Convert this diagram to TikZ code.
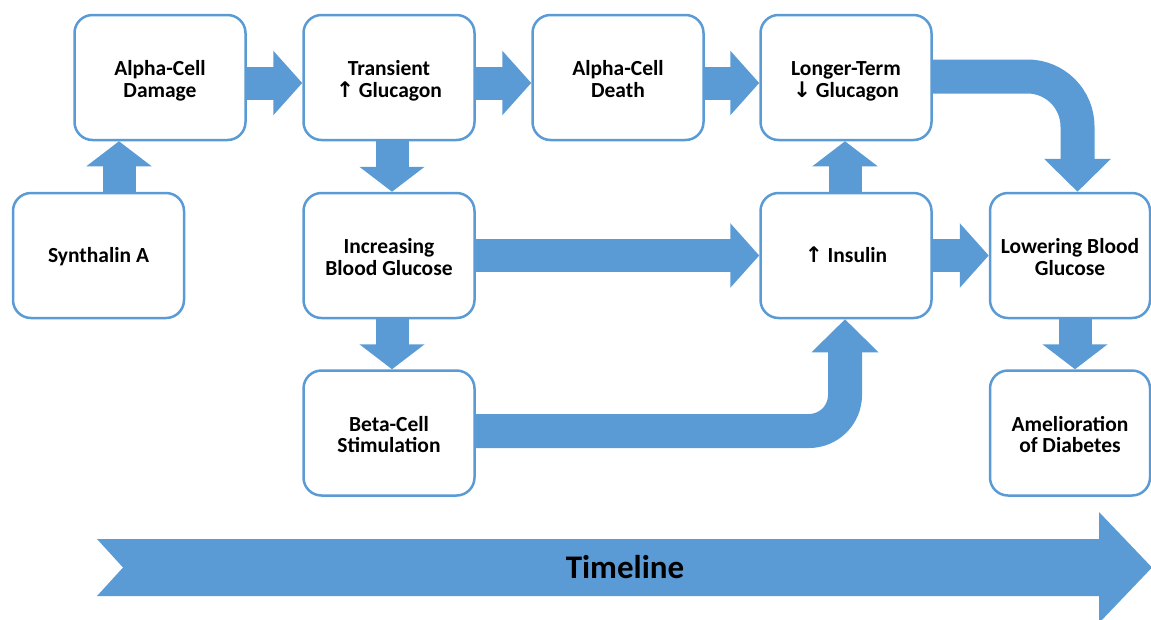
\documentclass[tikz,border=0pt]{standalone}
\usepackage{fontspec}
\setmainfont{Carlito}
\newfontfamily\arrowfont{DejaVu Sans}
\usetikzlibrary{arrows.meta}
\definecolor{flowblue}{HTML}{5B9BD5}

\begin{document}
\begin{tikzpicture}[x=1pt,y=-1pt,
  box/.style={draw=flowblue, line width=2.5pt, fill=white, rounded corners=18pt,
    minimum width=171pt, minimum height=125pt, align=center, inner sep=0pt,
    text height=39pt, text depth=0pt,
    font=\bfseries\fontsize{21.5}{21.5}\selectfont},
  onebox/.style={box, text height=14pt, text depth=0pt},
  narrowbox/.style={box, minimum width=160pt},
  hflow/.style={draw=flowblue, line width=33pt, -{Triangle[width=63pt,length=29pt]}},
  vflow/.style={draw=flowblue, line width=33pt, -{Triangle[width=64pt,length=25pt]}},
  bendflow/.style={draw=flowblue, line width=34pt, -{Triangle[width=65pt,length=33pt]}}
]
\useasboundingbox (0,0) rectangle (1151,619);

% process boxes
\node[box] (dmg) at (160,77.5) {Alpha-Cell\\Damage};
\node[onebox] (syn) at (98.5,255.5) {Synthalin A};
\node[box] (trn) at (389,77.5) {Transient\\{\arrowfont ↑}~Glucagon};
\node[box] (dth) at (618,77.5) {Alpha-Cell\\Death};
\node[box] (ltg) at (846,77.5) {Longer-Term\\{\arrowfont ↓}~Glucagon};
\node[box] (inc) at (389,255.5) {Increasing\\Blood Glucose};
\node[onebox] (ins) at (846,255.5) {{\arrowfont ↑}~Insulin};
\node[narrowbox] (low) at (1070,255.5) {Lowering Blood\\Glucose};
\node[box] (bet) at (389,433) {Beta-Cell\\Stimulation};
\node[narrowbox] (aml) at (1070,433) {Amelioration\\of Diabetes};

% straight block arrows
\draw[vflow] ([xshift=20.5pt]syn.north) -- ([xshift=-41pt]dmg.south);
\draw[hflow] ([yshift=-5.5pt]dmg.east) -- ([yshift=-5.5pt]trn.west);
\draw[hflow] ([yshift=-5.5pt]trn.east) -- ([yshift=-5.5pt]dth.west);
\draw[hflow] ([yshift=-5.5pt]dth.east) -- ([yshift=-5.5pt]ltg.west);
\draw[vflow] ([xshift=3pt]trn.south) -- ([xshift=3pt]inc.north);
\draw[vflow] ([xshift=3pt]inc.south) -- ([xshift=3pt]bet.north);
\draw[hflow] (inc.east) -- (ins.west);
\draw[vflow] ([xshift=-1pt]ins.north) -- ([xshift=-1pt]ltg.south);
\draw[hflow] (ins.east) -- (low.west);
\draw[vflow] ([xshift=5pt]low.south) -- ([xshift=5pt]aml.north);

% bent block arrows
\draw[bendflow, rounded corners=50pt] ([yshift=1pt]ltg.east) -| ([xshift=7.5pt]low.north);
\draw[bendflow, rounded corners=36pt] ([yshift=2pt]bet.east) -| ([xshift=-1pt]ins.south);

% timeline banner
\fill[flowblue] (97,539) -- (1099,539) -- (1099,512) -- (1152,567.5) -- (1099,623)
  -- (1099,596) -- (97,596) -- (123,567.5) -- cycle;
\node[font=\bfseries\fontsize{33}{35}\selectfont] (tl) at (625,567) {Timeline};
\end{tikzpicture}
\end{document}
